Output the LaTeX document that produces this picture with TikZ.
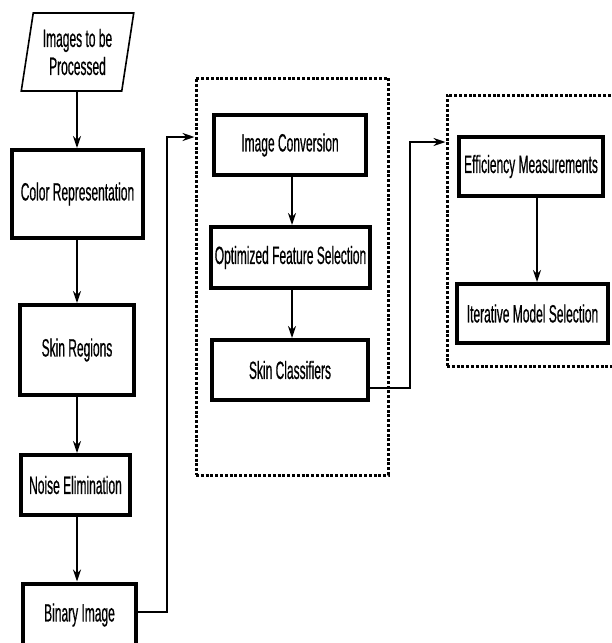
\documentclass[tikz,border=0pt]{standalone}
\usepackage{fontspec}
\setmainfont{Liberation Sans}[FakeStretch=0.48,FakeBold=0.5]
\usepackage{tikz}
\usetikzlibrary{arrows.meta,shapes.geometric}

\begin{document}
\begin{tikzpicture}[x=1pt,y=-1pt,>={Stealth[length=12pt,width=8pt]},
    stepbox/.style={draw, line width=4pt, rectangle, inner sep=2pt,
        font=\fontsize{25}{28}\selectfont},
    inputbox/.style={draw, line width=1.6pt, trapezium, trapezium stretches=true,
        trapezium left angle=79, trapezium right angle=101, align=center,
        font=\fontsize{25}{28}\selectfont},
    groupbox/.style={draw, line width=3pt, dash pattern=on 3pt off 1.8pt, rectangle},
    conn/.style={->, line width=1.6pt}]

\useasboundingbox (0,0) rectangle (612,643);
\clip (0,0) rectangle (612,643);

% -------------------------
% Pre-processing column
% -------------------------
\node[inputbox, minimum width=113, minimum height=78] (img) at (77.5,52) {Images to be\\Processed};
\node[stepbox, minimum width=131, minimum height=88] (color) at (77.5,194) {Color Representation};
\node[stepbox, minimum width=114, minimum height=90] (skin) at (77,350) {Skin Regions};
\node[stepbox, minimum width=109, minimum height=60] (noise) at (75.5,485) {Noise Elimination};
\node[stepbox, minimum width=113, minimum height=63] (bin) at (79.5,615) {Binary Image};

\coordinate (colx) at (77,0);
\draw[conn] (img.south -| colx) -- (color.north -| colx);
\draw[conn] (color.south -| colx) -- (skin.north -| colx);
\draw[conn] (skin.south -| colx) -- (noise.north -| colx);
\draw[conn] (noise.south -| colx) -- (bin.north -| colx);

% -------------------------
% Classification group
% -------------------------
\node[groupbox, minimum width=192, minimum height=397] (grpA) at (292,276.5) {};
\node[stepbox, minimum width=152, minimum height=60] (conv) at (290,145) {Image Conversion};
\node[stepbox, minimum width=159, minimum height=61] (feat) at (290.5,257.5) {Optimized Feature Selection};
\node[stepbox, minimum width=156, minimum height=60] (clf) at (290,370) {Skin Classifiers};

\coordinate (midx) at (292,0);
\draw[conn] (conv.south -| midx) -- (feat.north -| midx);
\draw[conn] (feat.south -| midx) -- (clf.north -| midx);

% -------------------------
% Evaluation group
% -------------------------
\node[groupbox, minimum width=172, minimum height=271] (grpB) at (533,230.5) {};
\node[stepbox, minimum width=144, minimum height=59] (eff) at (531,166.5) {Efficiency Measurements};
\node[stepbox, minimum width=151, minimum height=59] (iter) at (532.5,313.5) {Iterative Model Selection};

\coordinate (rightx) at (537,0);
\draw[conn] (eff.south -| rightx) -- (iter.north -| rightx);

% -------------------------
% Links between groups
% -------------------------
\coordinate (turnA) at (167,137);
\coordinate (turnB) at (410,142);
\draw[conn] ([yshift=3pt]bin.east) -| (turnA) -- (turnA -| grpA.west);
\draw[conn] ([yshift=-18pt]clf.east) -| (turnB) -- (turnB -| grpB.west);

\end{tikzpicture}
\end{document}
